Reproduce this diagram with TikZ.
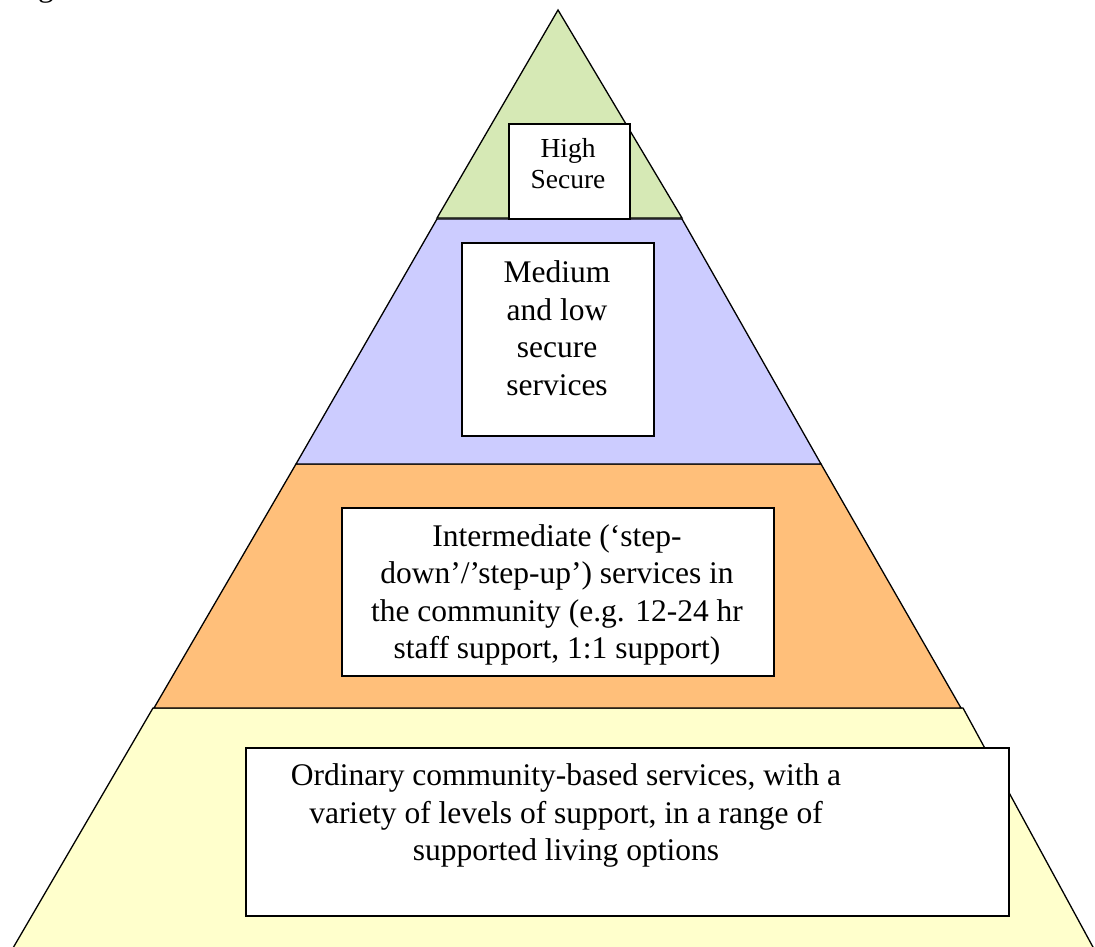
\documentclass[tikz,border=0pt]{standalone}
\usepackage{fontspec}
\setmainfont{Liberation Serif}
\definecolor{tgreen}{RGB}{214,233,181}
\definecolor{tblue}{RGB}{204,204,255}
\definecolor{torange}{RGB}{255,191,122}
\definecolor{tyellow}{RGB}{255,255,204}
\begin{document}
\begin{tikzpicture}[x=1pt,y=-1pt,
  band/.style={draw=black, line width=1.3pt, line join=miter},
  sbox/.style={draw=black, fill=white, line width=1.8pt, inner sep=0pt, anchor=north west},
  btext/.style={align=center, inner sep=0pt, anchor=north, font=\fontsize{31.5}{37.5}\selectfont},
  stext/.style={align=center, inner sep=0pt, anchor=north, font=\fontsize{27.5}{31.5}\selectfont}]
\useasboundingbox (0,0) rectangle (1095,947);
% fragment of a caption cut off above
\node[anchor=base, inner sep=0pt, font=\fontsize{31.5}{37.5}\selectfont] (fig) at (46,-3) {g};
% bands
\path[band, fill=tyellow] (153,708) -- (963,708) -- (1100,960) -- (6,960) -- cycle;
\path[band, fill=torange] (296,464) -- (821,464) -- (961,708) -- (154,708) -- cycle;
\path[band, fill=tblue] (437,219) -- (682,219) -- (821,464) -- (296,464) -- cycle;
\path[band, fill=tgreen] (558,10) -- (682,218) -- (437,218) -- cycle;
% boxes
\node[sbox, minimum width=121pt, minimum height=95pt] (hs) at (508,123) {};
\node[sbox, minimum width=192pt, minimum height=193pt] (med) at (461,242) {};
\node[sbox, minimum width=432pt, minimum height=168pt] (inter) at (341,507) {};
\node[sbox, minimum width=763pt, minimum height=168pt] (ord) at (245,747) {};
% texts
\node[stext] (hst) at (568,138) {High\\Secure};
\node[btext] (medt) at (557,260.5) {Medium\\and low\\secure\\services};
\node[btext] (intert) at (557,524) {Intermediate (‘step-\\down’/’step-up’) services in\\the community (e.g. 12-24 hr\\staff support, 1:1 support)};
\node[btext] (ordt) at (566,763.5) {Ordinary community-based services, with a\\variety of levels of support, in a range of\\supported living options};
\end{tikzpicture}
\end{document}
